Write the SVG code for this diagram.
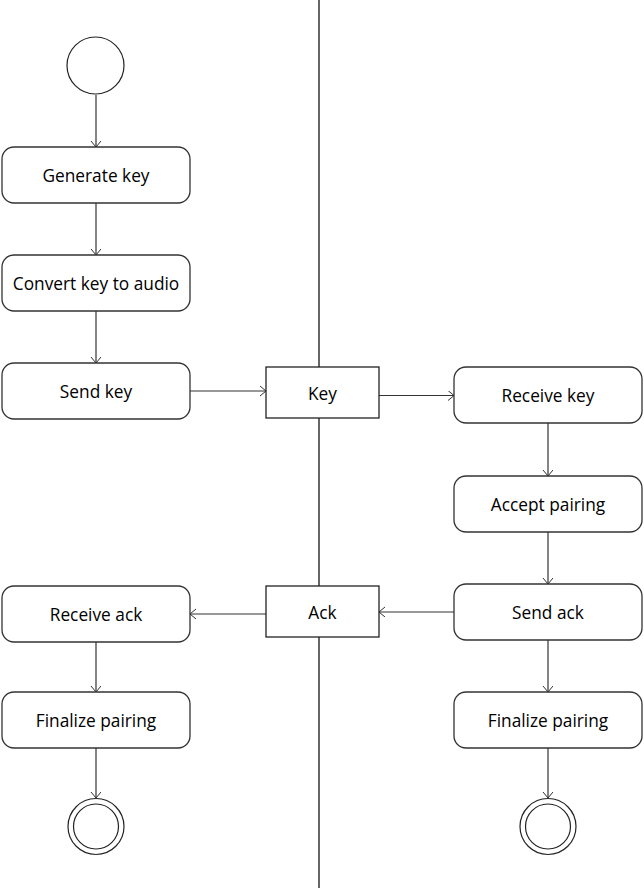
<svg xmlns="http://www.w3.org/2000/svg" width="644" height="888" viewBox="0 0 644 888">
<defs>
<marker id="arr" markerWidth="12" markerHeight="12" refX="9" refY="5" orient="auto" markerUnits="userSpaceOnUse">
<path d="M3,0 L9,5 L3,10" fill="none" stroke="#333" stroke-width="1"/>
</marker>
</defs>
<style>
.act{fill:#fff;stroke:#333;stroke-width:1.3}
.obj{fill:#fff;stroke:#222;stroke-width:1.3}
.t{font-family:"Open Sans","Noto Sans",sans-serif;font-size:17.3px;fill:#000;text-anchor:middle;dominant-baseline:central}
.c{fill:none;stroke:#333;stroke-width:1.2;marker-end:url(#arr)}
.st{fill:#fff;stroke:#222;stroke-width:1.2}
</style>
<rect width="644" height="888" fill="#fff"/>
<line x1="319" y1="0" x2="319" y2="888" stroke="#000" stroke-width="1.2"/>
<g id="connectors">
<line class="c" x1="96" y1="95" x2="96" y2="147"/>
<line class="c" x1="96" y1="203" x2="96" y2="255"/>
<line class="c" x1="96" y1="311" x2="96" y2="363"/>
<line class="c" x1="190" y1="391" x2="266" y2="391"/>
<line class="c" x1="379" y1="395.5" x2="454" y2="395.5"/>
<line class="c" x1="548" y1="423" x2="548" y2="476"/>
<line class="c" x1="548" y1="532" x2="548" y2="584"/>
<line class="c" x1="454" y1="612" x2="379" y2="612"/>
<line class="c" x1="266" y1="614" x2="190" y2="614"/>
<line class="c" x1="96" y1="642" x2="96" y2="692"/>
<line class="c" x1="96" y1="748" x2="96" y2="798"/>
<line class="c" x1="548" y1="640" x2="548" y2="692"/>
<line class="c" x1="548" y1="748" x2="548" y2="798"/>
</g>
<g id="start"><circle class="st" cx="95.5" cy="65.5" r="28.5"/></g>
<g id="generate"><rect class="act" x="2" y="147" width="188" height="56" rx="12"/><text class="t" x="96" y="175">Generate key</text></g>
<g id="convert"><rect class="act" x="2" y="255" width="188" height="56" rx="12"/><text class="t" x="96" y="283">Convert key to audio</text></g>
<g id="sendkey"><rect class="act" x="2" y="363" width="188" height="56" rx="12"/><text class="t" x="96" y="391">Send key</text></g>
<g id="key"><rect class="obj" x="266" y="367" width="113" height="51"/><text class="t" x="322.5" y="393">Key</text></g>
<g id="receivekey"><rect class="act" x="454" y="367" width="188" height="56" rx="12"/><text class="t" x="548" y="395">Receive key</text></g>
<g id="accept"><rect class="act" x="454" y="476" width="188" height="56" rx="12"/><text class="t" x="548" y="504">Accept pairing</text></g>
<g id="sendack"><rect class="act" x="454" y="584" width="188" height="56" rx="12"/><text class="t" x="548" y="612">Send ack</text></g>
<g id="ack"><rect class="obj" x="266" y="586" width="113" height="51"/><text class="t" x="322.5" y="612">Ack</text></g>
<g id="receiveack"><rect class="act" x="2" y="586" width="188" height="56" rx="12"/><text class="t" x="96" y="614">Receive ack</text></g>
<g id="finalizeL"><rect class="act" x="2" y="692" width="188" height="56" rx="12"/><text class="t" x="96" y="720">Finalize pairing</text></g>
<g id="finalizeR"><rect class="act" x="454" y="692" width="188" height="56" rx="12"/><text class="t" x="548" y="720">Finalize pairing</text></g>
<g id="endL"><circle class="st" cx="96" cy="826.5" r="28"/><circle class="st" cx="96" cy="826.5" r="22.5"/></g>
<g id="endR"><circle class="st" cx="548" cy="826.5" r="28"/><circle class="st" cx="548" cy="826.5" r="22.5"/></g>
</svg>
